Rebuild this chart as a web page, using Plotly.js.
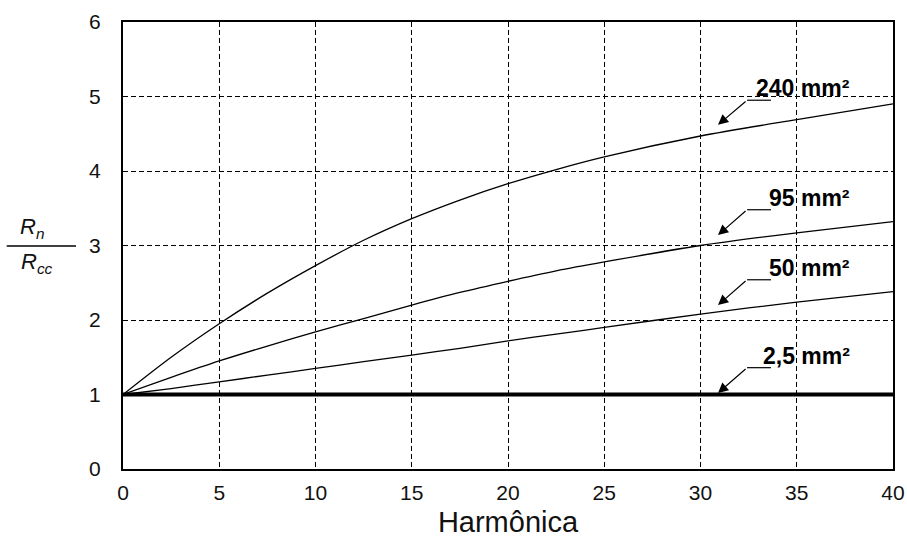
<!DOCTYPE html>
<html><head><meta charset="utf-8">
<script src="https://cdn.plot.ly/plotly-3.0.1.min.js"></script>
<style>html,body{margin:0;padding:0;background:#fff}#c{width:907px;height:538px}</style>
</head><body><div id="c"></div>
<script>
const harmonics = [0, 2.5, 5, 7.5, 10, 12.5, 15, 17.5, 20, 22.5, 25, 30, 35, 40];
const r240 = [1.0, 1.50, 1.95, 2.36, 2.73, 3.07, 3.36, 3.61, 3.83, 4.02, 4.19, 4.47, 4.69, 4.90];
const r95  = [1.0, 1.23, 1.45, 1.65, 1.84, 2.02, 2.20, 2.37, 2.52, 2.66, 2.78, 3.00, 3.17, 3.32];
const r50  = [1.0, 1.08, 1.17, 1.26, 1.35, 1.44, 1.53, 1.62, 1.72, 1.81, 1.90, 2.08, 2.24, 2.38];
const r25  = [1, 1, 1, 1, 1, 1, 1, 1, 1, 1, 1, 1, 1, 1];
const seriesLabels = ['240 mm²', '95 mm²', '50 mm²', '2,5 mm²'];
// label anchor (baseline), arrow tail and tip, in data units
const labelY = [4.95, 3.48, 2.54, 1.36];
const tipY   = [4.62, 3.14, 2.20, 1.02];
const labelRightX = 37.85, tailX = 32.42, tipX = 30.91, barEndX = 33.66;
const xTicks = [0, 5, 10, 15, 20, 25, 30, 35, 40];
const yTicks = [0, 1, 2, 3, 4, 5, 6];

const mk = (y, w) => ({x: harmonics, y: y, mode: 'lines', line: {color: '#000', width: w, shape: 'spline', smoothing: 0.8}, hoverinfo: 'skip'});
const data = [mk(r240, 1.3), mk(r95, 1.3), mk(r50, 1.3), {x: harmonics, y: r25, mode: 'lines', line: {color: '#000', width: 4}}];

const annotations = [];
const shapes = [];
seriesLabels.forEach((t, i) => {
  shapes.push({type: 'line', xref: 'x', yref: 'y', x0: tailX, x1: barEndX, y0: labelY[i], y1: labelY[i], line: {color: '#000', width: 1.2}});
  annotations.push({x: tipX, y: tipY[i], xref: 'x', yref: 'y', ax: tailX, ay: labelY[i], axref: 'x', ayref: 'y', text: '',
    showarrow: true, arrowhead: 2, arrowsize: 1.7, arrowwidth: 1.2, arrowcolor: '#000'});
  annotations.push({x: labelRightX, y: labelY[i], xref: 'x', yref: 'y', text: '<b>' + t + '</b>', showarrow: false,
    xanchor: 'right', yanchor: 'bottom', yshift: -3, font: {family: 'Arial, Liberation Sans', size: 23, color: '#000'}});
});
// y axis title as fraction
annotations.push({xref: 'paper', yref: 'paper', x: -0.118, y: 0.5, xanchor: 'center', yanchor: 'bottom', yshift: 2, text: '<i>R<sub>n</sub></i>', showarrow: false, font: {family: 'Arial, Liberation Sans', size: 22, color: '#111'}});
annotations.push({xref: 'paper', yref: 'paper', x: -0.112, y: 0.5, xanchor: 'center', yanchor: 'top', yshift: -1, text: '<i>R<sub>cc</sub></i>', showarrow: false, font: {family: 'Arial, Liberation Sans', size: 22, color: '#111'}});
shapes.push({type: 'line', xref: 'paper', yref: 'paper', x0: -0.151, x1: -0.061, y0: 0.499, y1: 0.499, line: {color: '#000', width: 1.5}});

const layout = {
  width: 907, height: 538,
  margin: {l: 123, r: 14, t: 22, b: 69},
  paper_bgcolor: '#fff', plot_bgcolor: '#fff',
  showlegend: false,
  font: {family: 'Arial, Liberation Sans', color: '#000'},
  xaxis: {range: [0, 40], tickvals: xTicks, ticktext: xTicks.map(String), showline: true, mirror: true, linecolor: '#000', linewidth: 2,
    showgrid: true, gridcolor: '#000', gridwidth: 1, griddash: '5px,3px', zeroline: false,
    ticks: 'outside', ticklen: 4, tickcolor: 'rgba(0,0,0,0)', tickfont: {size: 21, color: '#111'},
    title: {text: 'Harmônica', font: {size: 29, color: '#111'}, standoff: 8}},
  yaxis: {range: [0, 6], tickvals: yTicks, ticktext: yTicks.map(String), showline: true, mirror: true, linecolor: '#000', linewidth: 2,
    showgrid: true, gridcolor: '#000', gridwidth: 1, griddash: '5px,3px', zeroline: false,
    ticks: 'outside', ticklen: 16, tickcolor: 'rgba(0,0,0,0)', tickfont: {size: 21, color: '#111'}},
  annotations: annotations,
  shapes: shapes
};
Plotly.newPlot('c', data, layout, {staticPlot: true});
</script></body></html>
